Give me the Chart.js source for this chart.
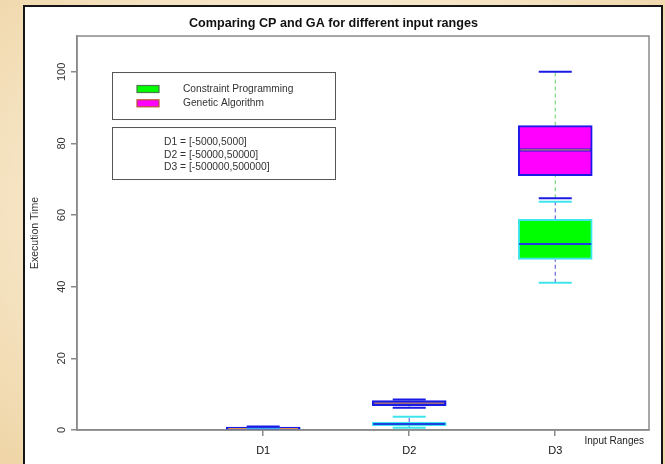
<!DOCTYPE html>
<html><head><meta charset="utf-8">
<script src="https://cdn.jsdelivr.net/npm/chart.js@4.4.1/dist/chart.umd.min.js"></script>
<style>
html,body{margin:0;padding:0;width:665px;height:464px;overflow:hidden;}
body{background: radial-gradient(ellipse at 50% 45%, #fcf4e4 0%, #f7e8cc 55%, #efd5a6 100%);}
#frame{position:absolute;left:23px;top:5px;width:636px;height:480px;background:#fff;border:2px solid #151515;}
#c{position:absolute;left:18px;top:0;}
</style></head><body>
<div id="frame"></div>
<canvas id="c" width="647" height="464"></canvas>
<script>
// ---- data ----
const categories = ['D1', 'D2', 'D3'];
const cpMin    = [0.05, 0.6, 41.1];
const cpQ1     = [0.10, 1.2, 47.6];
const cpMedian = [0.15, 1.7, 51.9];
const cpQ3     = [0.25, 2.2, 58.8];
const cpMax    = [0.35, 3.7, 63.7];
const gaMin    = [0.05, 6.2, 64.7];
const gaQ1     = [0.10, 6.8, 71.0];
const gaMedian = [0.40, 7.5, 78.2];
const gaQ3     = [0.80, 8.2, 85.0];
const gaMax    = [1.00, 8.5, 100.0];
const yTickValues = [0, 20, 40, 60, 80, 100];
const seriesNames = ['Constraint Programming', 'Genetic Algorithm'];
const rangeLabels = ['D1 = [-5000,5000]', 'D2 = [-50000,50000]', 'D3 = [-500000,500000]'];
const xAxisLabel = 'Input Ranges';
const yAxisLabel = 'Execution Time';
const chartTitle = 'Comparing CP and GA for different input ranges';

// ---- build library data from the arrays ----
const pos = categories.map((c, i) => i + 1);
const boxData = (q1, q3) => pos.map((x, i) => ({ x, y: [q1[i], q3[i]] }));
const pointData = (v) => pos.map((x, i) => ({ x, y: v[i] }));
const segData = (lo, hi) => pos.flatMap((x, i) => [{ x, y: lo[i] }, { x, y: hi[i] }, { x, y: null }]);
const whiskerData = (mn, q1, q3, mx) => segData(q3, mx).concat(segData(mn, q1));

const FONT = "'Liberation Sans', Arial, Helvetica, sans-serif";
Chart.defaults.font.family = FONT;

const CP_FILL = '#00ff00', CP_EDGE = '#40e4ee';
const GA_FILL = '#ff00ff', GA_EDGE = '#1a1ae6';

const extras = {
  id: 'extras',
  afterDraw(chart) {
    const ctx = chart.ctx, a = chart.chartArea;
    ctx.save();
    // plot frame
    ctx.strokeStyle = '#8a8a8a';
    ctx.lineWidth = 1.5;
    ctx.strokeRect(a.left, a.top, a.right - a.left, a.bottom - a.top);
    // legend box 1
    const lx = a.left + 35, lw = 223;
    ctx.strokeStyle = '#555';
    ctx.lineWidth = 1;
    ctx.strokeRect(lx + 0.5, a.top + 36.5, lw, 47);
    const sw = [[CP_FILL, '#4a7a4a'], [GA_FILL, '#b5562a']];
    ctx.font = '10.2px ' + FONT;
    ctx.textBaseline = 'middle';
    ctx.textAlign = 'left';
    seriesNames.forEach((name, i) => {
      const y = a.top + 53 + i * 14.3;
      ctx.fillStyle = sw[i][0];
      ctx.fillRect(lx + 25, y - 3.5, 22, 7);
      ctx.strokeStyle = sw[i][1];
      ctx.lineWidth = 1.2;
      ctx.strokeRect(lx + 25, y - 3.5, 22, 7);
      ctx.fillStyle = '#333';
      ctx.fillText(name, lx + 71, y);
    });
    // legend box 2
    ctx.strokeStyle = '#555';
    ctx.lineWidth = 1;
    ctx.strokeRect(lx + 0.5, a.top + 91.5, lw, 52);
    ctx.font = '10.3px ' + FONT;
    ctx.fillStyle = '#333';
    rangeLabels.forEach((t, i) => {
      ctx.fillText(t, lx + 52, a.top + 106.3 + i * 12.5);
    });
    // x-axis label
    ctx.font = '10px ' + FONT;
    ctx.fillStyle = '#222';
    ctx.textAlign = 'right';
    ctx.fillText(xAxisLabel, a.right - 5, a.bottom + 11);
    ctx.restore();
  }
};

new Chart(document.getElementById('c'), {
  type: 'bar',
  data: {
    datasets: [
      { type: 'line', label: 'cp whiskers', data: whiskerData(cpMin, cpQ1, cpQ3, cpMax),
        borderColor: '#4b4bd0', borderWidth: 1, borderDash: [4, 3], pointRadius: 0, spanGaps: false, order: 20 },
      { type: 'line', label: 'ga whiskers', data: whiskerData(gaMin, gaQ1, gaQ3, gaMax),
        borderColor: '#5fd35f', borderWidth: 1, borderDash: [4, 3], pointRadius: 0, spanGaps: false, order: 19 },
      { type: 'bar', label: seriesNames[0], data: boxData(cpQ1, cpQ3),
        backgroundColor: CP_FILL, borderColor: CP_EDGE, borderWidth: 2, borderSkipped: false,
        barThickness: 74, grouped: false, minBarLength: 2, order: 11 },
      { type: 'bar', label: seriesNames[1], data: boxData(gaQ1, gaQ3),
        backgroundColor: GA_FILL, borderColor: GA_EDGE, borderWidth: 2, borderSkipped: false,
        barThickness: 74, grouped: false, minBarLength: 2, order: 10 },
      { type: 'line', label: 'cp median', data: pointData(cpMedian), showLine: false,
        pointStyle: 'line', pointRadius: 36, pointBorderWidth: 2, pointBorderColor: '#1f3fe0', order: 8 },
      { type: 'line', label: 'ga median edge', data: pointData(gaMedian), showLine: false,
        pointStyle: 'line', pointRadius: 36, pointBorderWidth: 3, pointBorderColor: GA_EDGE, order: 7 },
      { type: 'line', label: 'ga median', data: pointData(gaMedian), showLine: false,
        pointStyle: 'line', pointRadius: 35, pointBorderWidth: 1, pointBorderColor: '#e8a040', order: 6 },
      { type: 'line', label: 'cp caps', data: pointData(cpMax).concat(pointData(cpMin)), showLine: false,
        pointStyle: 'line', pointRadius: 16.5, pointBorderWidth: 2, pointBorderColor: CP_EDGE, order: 5 },
      { type: 'line', label: 'ga caps', data: pointData(gaMax).concat(pointData(gaMin)), showLine: false,
        pointStyle: 'line', pointRadius: 16.5, pointBorderWidth: 2, pointBorderColor: GA_EDGE, order: 4 }
    ]
  },
  options: {
    responsive: false,
    animation: false,
    events: [],
    layout: { autoPadding: false, padding: { left: 0, right: 16, top: 0, bottom: 0 } },
    plugins: {
      legend: { display: false },
      tooltip: { enabled: false },
      title: { display: true, text: chartTitle, color: '#111',
        font: { size: 12.6, weight: 'bold', lineHeight: 1.2 }, padding: { top: 15.5, bottom: 5.4 } }
    },
    scales: {
      x: {
        type: 'linear', min: -0.275, max: 3.642, offset: false,
        afterBuildTicks: s => { s.ticks = pos.map(v => ({ value: v })); },
        afterFit: s => { s.height = 34; },
        grid: { drawOnChartArea: false, drawTicks: true, tickLength: 6, color: '#8a8a8a', offset: false, lineWidth: 1.5 },
        border: { display: true, color: '#8a8a8a', width: 1.5 },
        ticks: { callback: (v, i) => categories[i], color: '#111', font: { size: 11 }, padding: 8,
          maxRotation: 0, autoSkip: false }
      },
      y: {
        type: 'linear', min: 0, max: 110,
        afterBuildTicks: s => { s.ticks = yTickValues.map(v => ({ value: v })); },
        afterFit: s => { s.width = 59; },
        grid: { drawOnChartArea: false, drawTicks: true, tickLength: 6, color: '#8a8a8a', lineWidth: 1.5 },
        border: { display: true, color: '#8a8a8a', width: 1.5 },
        ticks: { minRotation: 90, maxRotation: 90, crossAlign: 'center', padding: 0, color: '#333',
          font: { size: 11 } },
        title: { display: true, text: yAxisLabel, color: '#333', font: { size: 10.5 },
          padding: { top: 11.2, bottom: 0 } }
      }
    }
  },
  plugins: [extras]
});
</script>
</body></html>
